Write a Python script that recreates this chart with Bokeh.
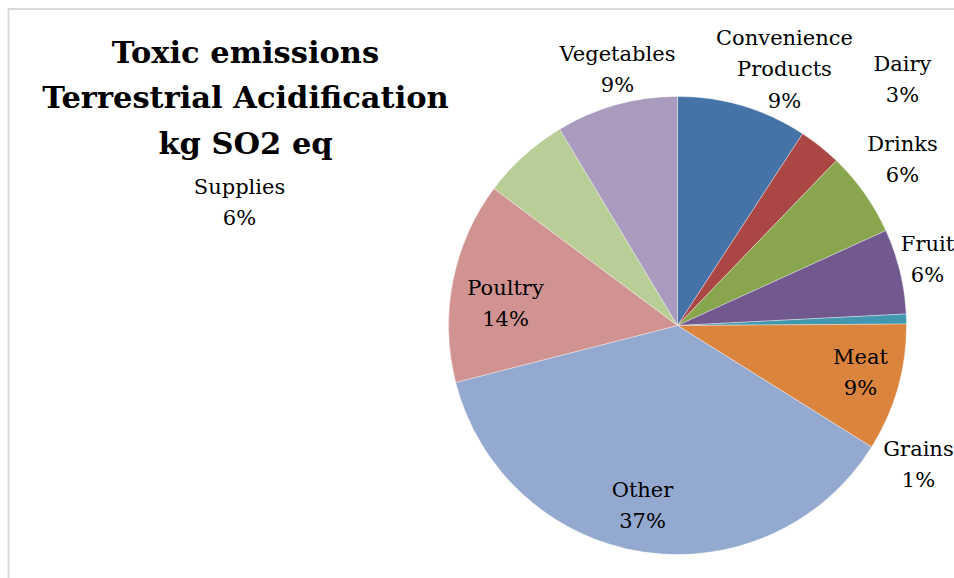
import math
from bokeh.plotting import figure
from bokeh.models import Range1d, ColumnDataSource
from bokeh.core.properties import value
from bokeh.embed import file_html
from bokeh.resources import INLINE

categories = ["Convenience\nProducts", "Dairy", "Drinks", "Fruit", "Grains",
              "Meat", "Other", "Poultry", "Supplies", "Vegetables"]
shares = [9.2, 3.0, 6.0, 6.0, 0.7, 9.0, 37.1, 14.2, 6.2, 8.6]
colors = ["#4572A7", "#AA4643", "#89A54E", "#71588F", "#4198AF",
          "#DB843D", "#93A9CF", "#D19392", "#B9CD96", "#A99BBD"]
title_lines = "Toxic emissions\nTerrestrial Acidification\nkg SO2 eq"

W, H = 954, 578
cx, cy, r = 677, H - 325, 229
# label anchor points (pixel space, top-left origin) - layout only
label_pos = [(784, 69), (902, 79), (902, 159), (927, 259), (918, 464),
             (860, 372), (642, 505), (505, 303), (239, 202), (617, 69)]

total = sum(shares)
starts, ends = [], []
acc = 0.0
for s in shares:
    starts.append(math.pi / 2 - 2 * math.pi * acc / total)
    acc += s
    ends.append(math.pi / 2 - 2 * math.pi * acc / total)

src = ColumnDataSource(dict(start=starts, end=ends, color=colors))

p = figure(width=W, height=H, output_backend="svg", toolbar_location=None,
           x_range=Range1d(0, W), y_range=Range1d(0, H), min_border=0)
p.axis.visible = False
p.grid.visible = False
p.outline_line_color = None
p.background_fill_color = "white"

# chart frame (light grey left and top edges)
p.line([8, 8, W], [0, H - 8.5, H - 8.5], line_color="#D9D9D9", line_width=2)

p.wedge(x=cx, y=cy, radius=r, start_angle="start", end_angle="end",
        direction="clock", fill_color="color", line_color="white",
        line_width=0.5, line_alpha=0.7, source=src)

labels = []
for c, s in zip(categories, shares):
    labels.append(f"{c}\n{round(s):d}%")
lsrc = ColumnDataSource(dict(x=[q[0] for q in label_pos],
                             y=[H - q[1] for q in label_pos], t=labels))
p.text(x="x", y="y", text="t", source=lsrc, text_align="center",
       text_baseline="middle", text_font=value("DejaVu Serif"),
       text_font_size="21px", text_color="#000000", text_line_height=1.3)

p.text(x=[245], y=[H - 97], text=[title_lines], text_align="center",
       text_baseline="middle", text_font=value("DejaVu Serif"),
       text_font_size="30.5px", text_font_style="bold", text_color="#000000",
       text_line_height=1.27)

open("out.html", "w").write(file_html(p, INLINE))
